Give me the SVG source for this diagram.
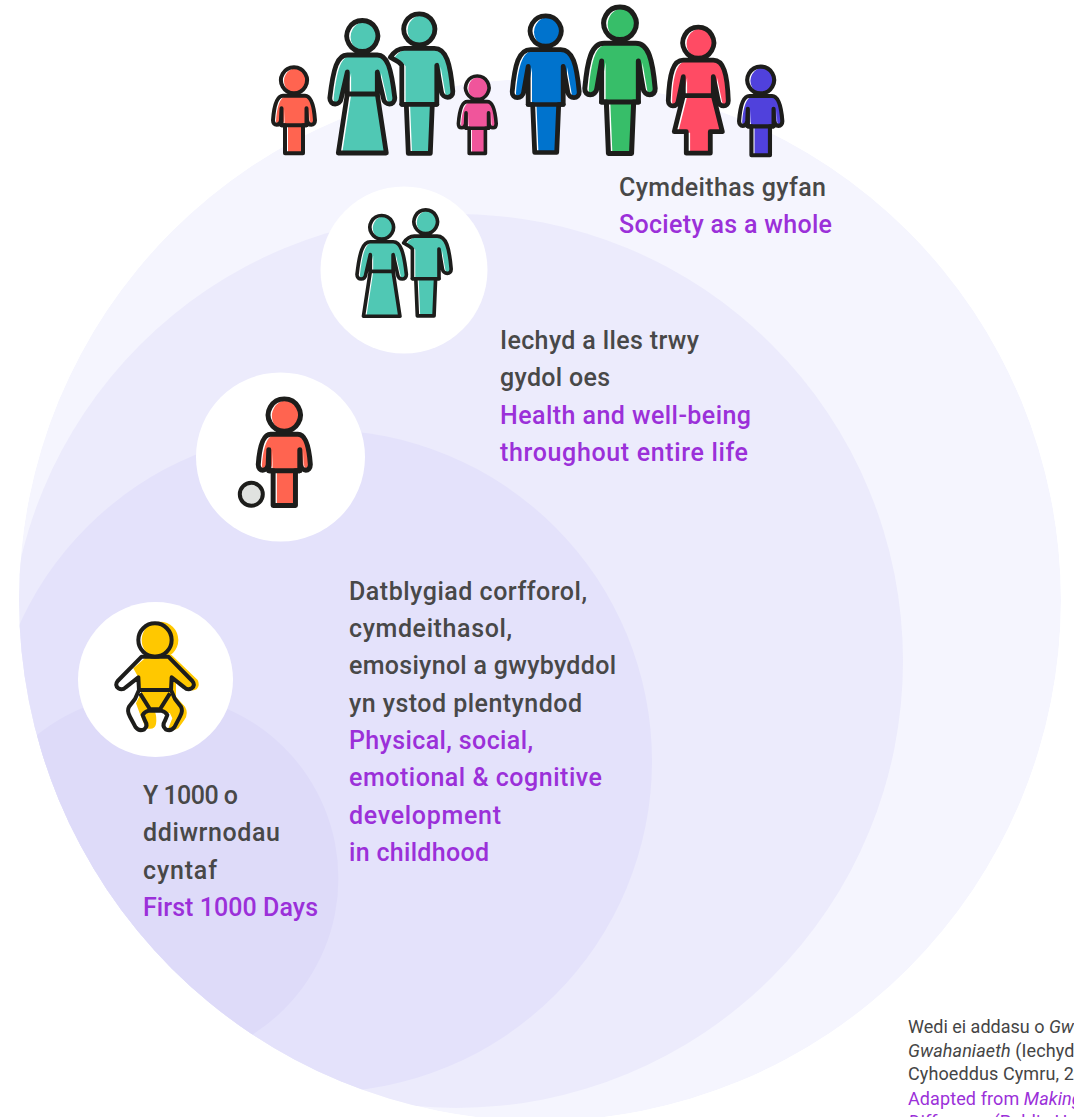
<svg xmlns="http://www.w3.org/2000/svg" width="1074" height="1117" viewBox="0 0 1074 1117">
<style>
text{font-family:"Roboto","Liberation Sans",sans-serif;font-weight:500;font-size:25px;fill:#484848}
.p{fill:#9b30d9}
.s{font-size:18px;font-weight:400;letter-spacing:.1px;fill:#454545}
.sp{font-size:18px;font-weight:400;letter-spacing:.1px;fill:#9b30d9}
.i{font-style:italic}
.o{fill:none;stroke:#1d1d1b;stroke-width:4.800;stroke-linejoin:round;stroke-linecap:round}
.w{fill:#fff}
.c{fill:currentColor}
</style>
<defs>
<clipPath id="outer"><circle cx="540" cy="600" r="521"/></clipPath>
<path id="manS" d="M0,-15.500A15.500,15.500 0 1 1 -.01,-15.500ZM-15,19H15C27,19 31,34 33.500,62C34,70 23,70 22,62L17.500,36V75H13L11,124H-11L-13,75H-17.500V36L-22,62C-23,70 -34,70 -33.500,62C-31,34 -27,19 -15,19Z"/>
<clipPath id="cMan"><use href="#manS"/></clipPath>
<g id="man"><use href="#manS" class="w"/><g clip-path="url(#cMan)"><use href="#manS" class="c" transform="translate(3.800,1)"/></g><use href="#manS" class="o"/><path class="o" d="M-17.500,75H17.500"/></g>
<path id="manRS" d="M0,-15.500A15.500,15.500 0 1 1 -.01,-15.500ZM-15,19H15C27,19 31,34 33.500,62C34,70 23,70 22,62L17.500,36V75H13L11,124H-11L-13,75H-17.500V36C-20,32 -26,30 -29,28C-25,22 -20,19 -15,19Z"/>
<clipPath id="cManR"><use href="#manRS"/></clipPath>
<g id="manR"><use href="#manRS" class="w"/><g clip-path="url(#cManR)"><use href="#manRS" class="c" transform="translate(3.800,1)"/></g><use href="#manRS" class="o"/><path class="o" d="M-17.500,75H17.500"/></g>
<path id="womanS" d="M0,-15.500A15.500,15.500 0 1 1 -.01,-15.500ZM-15,19H15C25,19 29,32 32.500,62C32.500,70 22,70 21,62L15,36V58L24,117H-24L-15,58V36L-21,62C-22,70 -32.500,70 -32.500,62C-29,32 -25,19 -15,19Z"/>
<clipPath id="cWoman"><use href="#womanS"/></clipPath>
<g id="woman"><use href="#womanS" class="w"/><g clip-path="url(#cWoman)"><use href="#womanS" class="c" transform="translate(3.800,1)"/></g><use href="#womanS" class="o"/><path class="o" d="M-15,58H15"/></g>
<path id="girlS" d="M0,-15.500A15.500,15.500 0 1 1 -.01,-15.500ZM-15,17.500H15C25,17.500 29,30 30,58C30,65 21,65 20,58L15,34V53L24,89H12V110.500H-12V89H-24L-15,53V34L-20,58C-21,65 -30,65 -30,58C-29,30 -25,17.500 -15,17.500Z"/>
<clipPath id="cGirl"><use href="#girlS"/></clipPath>
<g id="girl"><use href="#girlS" class="w"/><g clip-path="url(#cGirl)"><use href="#girlS" class="c" transform="translate(3.800,1)"/></g><use href="#girlS" class="o"/><path class="o" d="M-15,53H15"/></g>
<path id="childS" d="M0,-13A13,13 0 1 1 -.01,-13ZM-11,15.500H11C17,15.500 20,26 21,40C21,46 14,46 13,40L12.500,28V45H9V73H-9V45H-12.500V28L-13,40C-14,46 -21,46 -21,40C-20,26 -17,15.500 -11,15.500Z"/>
<clipPath id="cChild"><use href="#childS"/></clipPath>
<g id="child"><use href="#childS" class="w"/><g clip-path="url(#cChild)"><use href="#childS" class="c" transform="translate(3,.8)"/></g><use href="#childS" class="o" style="stroke-width:4"/><path class="o" style="stroke-width:4" d="M-12.500,45H12.500"/></g>
<path id="babyS" d="M200,170L128,243Q118,255 130,265Q142,272 152,262L190,232L192,270L180,297L162,320Q155,332 165,350L182,382Q192,395 208,388Q220,378 210,362L203,345Q208,335 222,332H258Q272,335 277,345L270,362Q260,378 272,388Q288,395 298,382L315,350Q325,332 318,320L300,297L288,270L290,232L328,262Q338,272 350,265Q362,255 352,243L280,170Z"/>
</defs>
<rect width="1074" height="1117" fill="#fff"/>
<g id="circles" clip-path="url(#outer)">
<circle cx="540" cy="600" r="521" fill="#f5f5fe"/>
<circle cx="456" cy="661" r="447" fill="#ecebfc"/>
<circle cx="321" cy="761" r="331" fill="#e4e2fb"/>
<circle cx="153.600" cy="878.400" r="184.800" fill="#dedbf9"/>
</g>
<g id="society">
<use href="#child" transform="translate(294,80.300)" color="#ff6450"/>
<use href="#woman" transform="translate(362.300,36)" color="#50c8b4"/>
<use href="#manR" transform="translate(419.300,29.300)" color="#50c8b4"/>
<use href="#child" transform="translate(477.300,87.700) scale(.9)" color="#f0559b"/>
<use href="#man" transform="translate(545.700,31) scale(1,.98)" color="#0073cd"/>
<use href="#man" transform="translate(620,23.300) scale(1.05)" color="#37be69"/>
<use href="#girl" transform="translate(698.300,42.700)" color="#ff4b64"/>
<use href="#child" transform="translate(760.700,80) scale(1.03)" color="#5041dc"/>
</g>
<g id="life">
<circle cx="404" cy="270" r="83.500" fill="#fff"/>
<use href="#woman" transform="translate(381.700,227.300) scale(.76)" color="#50c8b4"/>
<use href="#manR" transform="translate(425.700,221.700) scale(.76)" color="#50c8b4"/>
</g>
<g id="childhood">
<circle cx="280.500" cy="457" r="84.500" fill="#fff"/>
<use href="#child" transform="translate(284.300,415) scale(1.24)" color="#ff6450"/>
<circle cx="251.300" cy="494.300" r="11.500" fill="#e0e2e0" stroke="#1d1d1b" stroke-width="4"/>
</g>
<g id="days">
<circle cx="155.500" cy="679.500" r="77.500" fill="#fff"/>
<g transform="translate(75,600) scale(.3333)">
<circle cx="255" cy="120" r="55" fill="#ffc800"/>
<path fill="#ffc800" d="M215,170L290,165L368,240Q376,255 365,268Q350,276 338,265L303,238L303,290L330,320Q342,340 328,360L310,385Q295,396 280,385L292,355L285,340L265,335H240Q246,350 243,372Q240,388 222,386L212,385L196,345L183,310L200,275L190,232L175,205Z"/>
<use href="#babyS" fill="none" stroke="#1d1d1b" stroke-width="12" stroke-linejoin="round"/>
<circle cx="240" cy="120" r="50" fill="none" stroke="#1d1d1b" stroke-width="12"/>
<path d="M192,270H288M195,280L225,328H255L285,280" fill="none" stroke="#1d1d1b" stroke-width="12"/>
</g>
</g>
<g id="labels">
<text x="619" y="196" textLength="207">Cymdeithas gyfan</text>
<text x="619" y="233" class="p" textLength="213">Society as a whole</text>
<text x="500" y="349" textLength="199">Iechyd a lles trwy</text>
<text x="500" y="386" textLength="110">gydol oes</text>
<text x="500" y="424" class="p" textLength="251">Health and well-being</text>
<text x="500" y="461" class="p" textLength="248">throughout entire life</text>
<text x="349" y="600" textLength="238">Datblygiad corfforol,</text>
<text x="349" y="637" textLength="163">cymdeithasol,</text>
<text x="349" y="674" textLength="267">emosiynol a gwybyddol</text>
<text x="349" y="712" textLength="233">yn ystod plentyndod</text>
<text x="349" y="749" class="p" textLength="184">Physical, social,</text>
<text x="349" y="786" class="p" textLength="253">emotional &amp; cognitive</text>
<text x="349" y="824" class="p" textLength="152">development</text>
<text x="349" y="861" class="p" textLength="140">in childhood</text>
<text x="143" y="804" textLength="95">Y 1000 o</text>
<text x="143" y="841" textLength="137">ddiwrnodau</text>
<text x="143" y="879" textLength="74">cyntaf</text>
<text x="143" y="916" class="p" textLength="175">First 1000 Days</text>
<text x="908" y="1033" class="s" style="letter-spacing:0">Wedi ei addasu o <tspan class="i">Gw</tspan></text>
<text x="908" y="1057" class="s"><tspan class="i">Gwahaniaeth</tspan> (Iechyd</text>
<text x="908" y="1080" class="s">Cyhoeddus Cymru, 2</text>
<text x="908" y="1105" class="sp">Adapted from <tspan class="i">Making</tspan></text>
<text x="908" y="1128" class="sp"><tspan class="i">Difference</tspan> (Public H</text>
</g>
</svg>
